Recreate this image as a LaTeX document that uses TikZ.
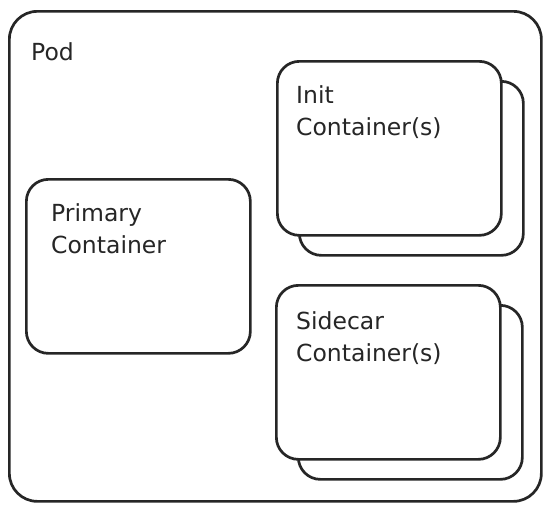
\documentclass[tikz,border=0pt]{standalone}
\usepackage{fontspec}
\setmainfont{DejaVu Sans}
\begin{document}
\begin{tikzpicture}[x=1pt,y=-1pt,
  box/.style={draw=black!85, line width=2.7pt, rounded corners=22pt, fill=white,
    anchor=north west, inner sep=0pt, minimum width=224pt, minimum height=174pt},
  outerbox/.style={draw=black!85, line width=2.7pt, rounded corners=28pt,
    anchor=north west, inner sep=0pt, minimum width=532pt, minimum height=490pt},
  lbl/.style={anchor=base west, inner sep=0pt, font=\fontsize{23.5}{32}\selectfont, align=left, text=black!85}]
\useasboundingbox (0,0) rectangle (551,507);
\node[outerbox] (pod) at (8,10) {};
\node[box] (primary) at (25,178) {};
\node[box] (initback) at (298,80) {};
\node[box] (init) at (276,60) {};
\node[box] (sideback) at (297,304) {};
\node[box] (side) at (275,284) {};
\node[lbl] (podl) at (31,60) {Pod};
\node[lbl] (priml) at (51,253) {Primary\\Container};
\node[lbl] (initl) at (296,135) {Init\\Container(s)};
\node[lbl] (sidel) at (296,361) {Sidecar\\Container(s)};
\end{tikzpicture}
\end{document}
